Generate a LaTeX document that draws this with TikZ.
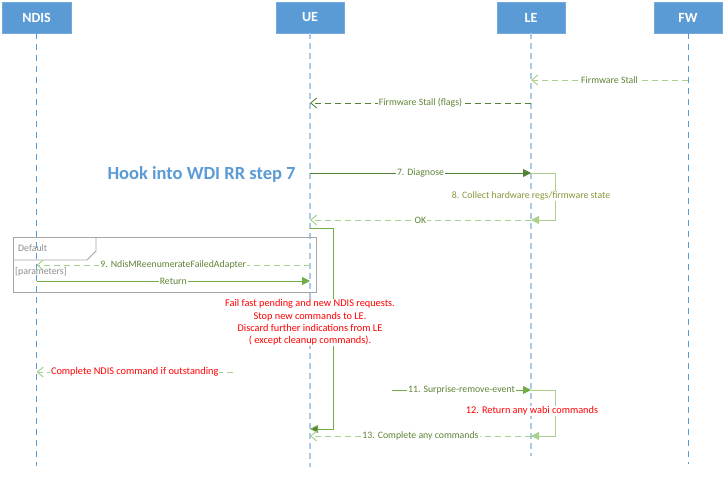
\documentclass[tikz,border=0pt]{standalone}
\usepackage{fontspec}
\setmainfont{Carlito}
\usetikzlibrary{arrows.meta}
\definecolor{hdrblue}{HTML}{5B9BD5}
\definecolor{lifelight}{HTML}{A9CBEA}
\definecolor{darkg}{HTML}{548235}
\definecolor{midg}{HTML}{70AD47}
\definecolor{lightg}{HTML}{A9D18E}
\definecolor{lbltext}{HTML}{5E8436}
\definecolor{lbltextb}{HTML}{86983A}
\definecolor{framegray}{HTML}{A6A6A6}
\definecolor{graytext}{HTML}{8C8C8C}
\definecolor{redtext}{HTML}{FF0000}
\tikzset{
  hdr/.style={fill=hdrblue, draw=hdrblue!85!white, minimum width=68pt, minimum height=31pt, inner sep=0pt, text=white, font=\fontsize{14}{16}\selectfont\bfseries},
  lifeA/.style={draw=hdrblue, line width=0.8pt, dash pattern=on 6pt off 5pt},
  lifeB/.style={draw=lifelight, line width=1.6pt, dash pattern=on 6pt off 4pt},
  lbl/.style={fill=white, inner sep=1pt, font=\fontsize{9.8}{11}\selectfont, text=lbltext},
  redlbl/.style={lbl, text=redtext},
  openhead/.style={-{Straight Barb[length=6pt,width=10pt]}},
  fillhead/.style={-{Triangle[length=8pt,width=8pt]}},
  retlight/.style={draw=lightg, line width=1pt, dash pattern=on 6pt off 4pt, openhead},
  retdark/.style={draw=darkg, line width=0.9pt, dash pattern=on 6pt off 4pt, openhead},
  calldark/.style={draw=darkg, line width=0.9pt, fillhead},
  callmid/.style={draw=midg, line width=0.9pt, fillhead},
  selfloop/.style={draw=lightg, line width=1pt, fillhead},
}
\begin{document}
\begin{tikzpicture}[x=1pt,y=-1pt]
\useasboundingbox (0,0) rectangle (725,479);
% headers
\node[hdr, minimum width=69pt] (ndis) at (36.5,17.5) {NDIS};
\node[hdr] (ue) at (310,17.5) {UE};
\node[hdr] (le) at (531,17.5) {LE};
\node[hdr] (fw) at (688,17.5) {FW};
% lifeline ends
\coordinate (ndisEnd) at (36.5,466);
\coordinate (ueEnd) at (310,467);
\coordinate (leEnd) at (531,456);
\coordinate (fwEnd) at (688,464);
\draw[lifeA] (ndis.south) -- (ndisEnd);
\draw[lifeA] (fw.south) -- (fwEnd);
\draw[lifeB] (ue.south) -- (ueEnd);
\draw[lifeB] (le.south) -- (leEnd);
% points on lifelines
\coordinate (fw80) at (688,80);
\coordinate (le80) at (531,80);
\coordinate (le103) at (531,103);
\coordinate (ue103) at (310,103);
\coordinate (ue173) at (310,173);
\coordinate (le173) at (531,173);
\coordinate (le220) at (531,220);
\coordinate (ue220) at (310,220);
\coordinate (ue228) at (310,228);
\coordinate (ue429) at (310,429);
\coordinate (ue265) at (310,265);
\coordinate (ndis265) at (36.5,265);
\coordinate (ndis281) at (36.5,281);
\coordinate (ue281) at (310,281);
\coordinate (free372) at (233,372);
\coordinate (ndis372) at (36.5,372);
\coordinate (free390) at (392,390);
\coordinate (le390) at (531,390);
\coordinate (le436) at (531,436);
\coordinate (ue436) at (310,436);
% UE activation loop
\draw[draw=midg, line width=1pt, -{Triangle[length=8pt,width=8pt,fill=darkg]}] (ue228) -- ++(23,0) |- (ue429);
% messages
\draw[retlight] (fw80) -- node[lbl]{Firmware Stall} (le80);
\draw[retdark] (le103) -- node[lbl]{Firmware Stall (flags)} (ue103);
\node[text=hdrblue, font=\fontsize{18.5}{20}\selectfont\bfseries] (hook) at (201.5,174) {Hook into WDI RR step 7};
\draw[calldark] (ue173) -- node[lbl]{7. Diagnose} (le173);
\draw[selfloop] (le173) -- ++(24,0) |- (le220);
\node[lbl, text=lbltextb] (collect) at (531,196) {8. Collect hardware regs/firmware state};
\draw[retlight] (le220) -- node[lbl]{OK} (ue220);
% frame
\draw[framegray, line width=0.8pt] (13,237) rectangle (316,292);
\draw[framegray, line width=0.8pt] (13,260) -- (87,260) -- (96,251) -- (96,237);
\node[anchor=west, inner sep=0pt, text=graytext, font=\fontsize{9.8}{11}\selectfont] (deflbl) at (18,248) {Default};
\node[anchor=west, inner sep=0pt, text=graytext, font=\fontsize{9.8}{11}\selectfont] (params) at (15,272) {[parameters]};
\draw[retlight] (ue265) -- node[lbl]{9. NdisMReenumerateFailedAdapter} (ndis265);
\draw[callmid] (ndis281) -- node[lbl]{Return} (ue281);
% red note
\node[fill=white, inner sep=1pt, text=redtext, align=center, font=\fontsize{10.3}{12.3}\selectfont] (note) at (310,322.5) {Fail fast pending and new NDIS requests.\\Stop new commands to LE.\\Discard further indications from LE\\( except cleanup commands).};
\draw[retlight] (free372) -- node[redlbl, font=\fontsize{10.3}{11}\selectfont]{Complete NDIS command if outstanding} (ndis372);
\draw[callmid] (free390) -- node[lbl]{11. Surprise-remove-event} (le390);
\draw[selfloop] (le390) -- ++(24,0) |- (le436);
\node[redlbl, font=\fontsize{10.3}{11}\selectfont] (wabi) at (532,411) {12. Return any wabi commands};
\draw[retlight] (le436) -- node[lbl]{13. Complete any commands} (ue436);
\end{tikzpicture}
\end{document}
